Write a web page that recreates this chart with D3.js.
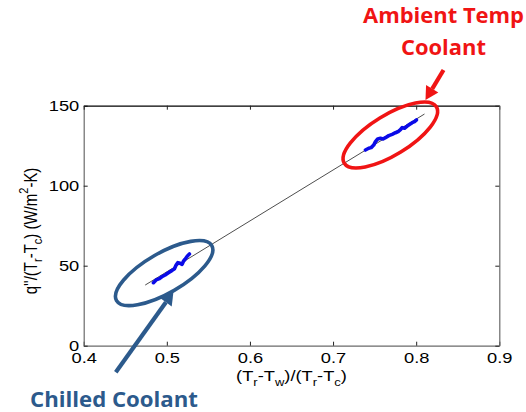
<!DOCTYPE html>
<html>
<head>
<meta charset="utf-8">
<script src="https://cdn.jsdelivr.net/npm/d3@7"></script>
<style>
  body { margin: 0; background: #fff; }
  svg { display: block; }
</style>
</head>
<body>
<svg id="chart" width="526" height="412"></svg>
<script>
// Axis ticks
const xTicks = [0.4, 0.5, 0.6, 0.7, 0.8, 0.9];
const yTicks = [0, 50, 100, 150];

// Chilled coolant measurements
const chilledX = [0.4839, 0.4871, 0.4911, 0.4940, 0.4980, 0.5019, 0.5060, 0.5092, 0.5112, 0.5133, 0.5160, 0.5184, 0.5200, 0.5220, 0.5248, 0.5272];
const chilledY = [39.4, 41.1, 41.9, 43.1, 44.2, 45.6, 46.9, 48.1, 50.4, 51.9, 51.5, 50.9, 52.8, 54.0, 56.1, 57.3];

// Ambient temperature coolant measurements
const ambientX = [0.7389, 0.7429, 0.7458, 0.7489, 0.7510, 0.7537, 0.7570, 0.7602, 0.7630, 0.7670, 0.7711, 0.7751, 0.7783, 0.7811, 0.7831, 0.7859, 0.7892, 0.7923, 0.7952, 0.7980, 0.8004];
const ambientY = [122.3, 123.4, 123.8, 125.4, 127.5, 129.2, 129.6, 129.2, 130.0, 131.3, 132.1, 133.1, 133.8, 135.0, 136.3, 135.9, 137.3, 138.4, 139.4, 140.0, 141.1];

// Linear fit through both groups
const fitX = [0.474, 0.81];
const fitY = [37.9, 144.8];

const svg = d3.select("#chart");
const x = d3.scaleLinear().domain([0.4, 0.9]).range([83.7, 499.3]);
const y = d3.scaleLinear().domain([0, 150]).range([345.7, 105.7]);

const axisFont = "'Liberation Sans', Arial, sans-serif";
const stretch = 1.18;

// Box axes with inward ticks
const gB = svg.append("g").attr("transform", `translate(0,${y(0)})`)
  .call(d3.axisBottom(x).tickValues(xTicks).tickSizeInner(-4).tickSizeOuter(0).tickPadding(6).tickFormat(d3.format(".1f")));
const gL = svg.append("g").attr("transform", `translate(${x(0.4)},0)`)
  .call(d3.axisLeft(y).tickValues(yTicks).tickSizeInner(-4).tickSizeOuter(0).tickPadding(3.8));
const gT = svg.append("g").attr("transform", `translate(0,${y(150)})`)
  .call(d3.axisTop(x).tickValues(xTicks).tickSizeInner(-4).tickSizeOuter(0).tickFormat(""));
const gR = svg.append("g").attr("transform", `translate(${x(0.9)},0)`)
  .call(d3.axisRight(y).tickValues(yTicks).tickSizeInner(-4).tickSizeOuter(0).tickFormat(""));

[gB, gL, gR].forEach(g => {
  g.select(".domain").attr("stroke", "#6a6a6a").attr("stroke-width", 1.2);
  g.selectAll(".tick line").attr("stroke", "#222");
});
gT.select(".domain").attr("stroke", "#000").attr("stroke-width", 1.2);
gT.selectAll(".tick line").attr("stroke", "#222");

[gB, gL].forEach(g => {
  g.selectAll(".tick text")
    .attr("font-family", axisFont)
    .attr("font-size", 15.5)
    .attr("fill", "#000")
    .attr("transform", `scale(${stretch},1)`);
});
gB.selectAll(".tick text").attr("dy", "0.74em");

// Fit line
svg.append("line")
  .attr("x1", x(fitX[0])).attr("y1", y(fitY[0]))
  .attr("x2", x(fitX[1])).attr("y2", y(fitY[1]))
  .attr("stroke", "#000").attr("stroke-width", 0.7);

// Measurement traces
const trace = d3.line().x(d => x(d[0])).y(d => y(d[1])).curve(d3.curveLinear);
[[chilledX, chilledY], [ambientX, ambientY]].forEach(([xs, ys]) => {
  const pts = xs.map((v, i) => [v, ys[i]]);
  svg.append("path").datum(pts)
    .attr("d", trace)
    .attr("fill", "none")
    .attr("stroke", "#0a0ae8")
    .attr("stroke-width", 3.6)
    .attr("stroke-linejoin", "round")
    .attr("stroke-linecap", "round");
});

// Axis titles
const xLab = svg.append("text")
  .attr("transform", `translate(${x(0.65)},381) scale(${stretch},1)`)
  .attr("text-anchor", "middle")
  .attr("font-family", axisFont).attr("font-size", 15.5).attr("fill", "#000");
function addRich(t, parts) {
  parts.forEach(p => {
    const ts = t.append("tspan").text(p.t);
    if (p.sub) ts.attr("font-size", 11).attr("dy", 5);
    if (p.sup) ts.attr("font-size", 11).attr("dy", -7);
    if (p.back) ts.attr("dy", p.back);
  });
}
addRich(xLab, [
  {t: "(T"}, {t: "r", sub: true}, {t: "-T", back: -5}, {t: "w", sub: true},
  {t: ")/(T", back: -5}, {t: "r", sub: true}, {t: "-T", back: -5}, {t: "c", sub: true}, {t: ")", back: -5}
]);

const yLab = svg.append("text")
  .attr("transform", `translate(36.5,231) rotate(-90) scale(1,${stretch})`)
  .attr("text-anchor", "middle")
  .attr("font-family", axisFont).attr("font-size", 15).attr("fill", "#000");
addRich(yLab, [
  {t: "q''/(T"}, {t: "r", sub: true}, {t: "-T", back: -5}, {t: "c", sub: true},
  {t: ") (W/m", back: -5}, {t: "2", sup: true}, {t: "-K)", back: 7}
]);

// Callouts
const red = "#f01414";
const navy = "#2c5a8c";

function ellipse(cx, cy, rx, ry, angle, color) {
  svg.append("ellipse")
    .attr("cx", 0).attr("cy", 0).attr("rx", rx).attr("ry", ry)
    .attr("transform", `translate(${x(cx)},${y(cy)}) rotate(${angle})`)
    .attr("fill", "none").attr("stroke", color).attr("stroke-width", 3.6);
}
function arrow(x0, y0, x1, y1, color, head) {
  const px0 = x(x0), py0 = y(y0), px1 = x(x1), py1 = y(y1);
  const ang = Math.atan2(py1 - py0, px1 - px0);
  const bx = px1 - head * Math.cos(ang), by = py1 - head * Math.sin(ang);
  svg.append("line")
    .attr("x1", px0).attr("y1", py0).attr("x2", bx).attr("y2", by)
    .attr("stroke", color).attr("stroke-width", 4.2);
  const w = head * 0.55;
  const nx = -Math.sin(ang), ny = Math.cos(ang);
  svg.append("path")
    .attr("d", `M${px1},${py1}L${bx + nx * w},${by + ny * w}L${bx - nx * w},${by - ny * w}Z`)
    .attr("fill", color);
}

ellipse(0.7689, 131.7, 54, 20, -31.5, red);
ellipse(0.4968, 45.4, 55, 20, -30, navy);
arrow(0.8329, 172.3, 0.8112, 153.6, red, 13);
arrow(0.4386, -16.6, 0.508, 33.75, navy, 13);

const calloutFont = "'Open Sans', 'Noto Sans', sans-serif";
function callout(txt, cx, by, len, size, color) {
  svg.append("text")
    .attr("x", cx).attr("y", by)
    .attr("text-anchor", "middle")
    .attr("font-family", calloutFont).attr("font-weight", 700)
    .attr("font-size", size).attr("fill", color)
    .attr("textLength", len).attr("lengthAdjust", "spacingAndGlyphs")
    .text(txt);
}
callout("Ambient Temp", 443.5, 22.5, 161, 20.5, red);
callout("Coolant", 443.5, 54.5, 85, 20.5, red);
callout("Chilled Coolant", 114, 407, 168, 22, navy);
</script>
</body>
</html>
